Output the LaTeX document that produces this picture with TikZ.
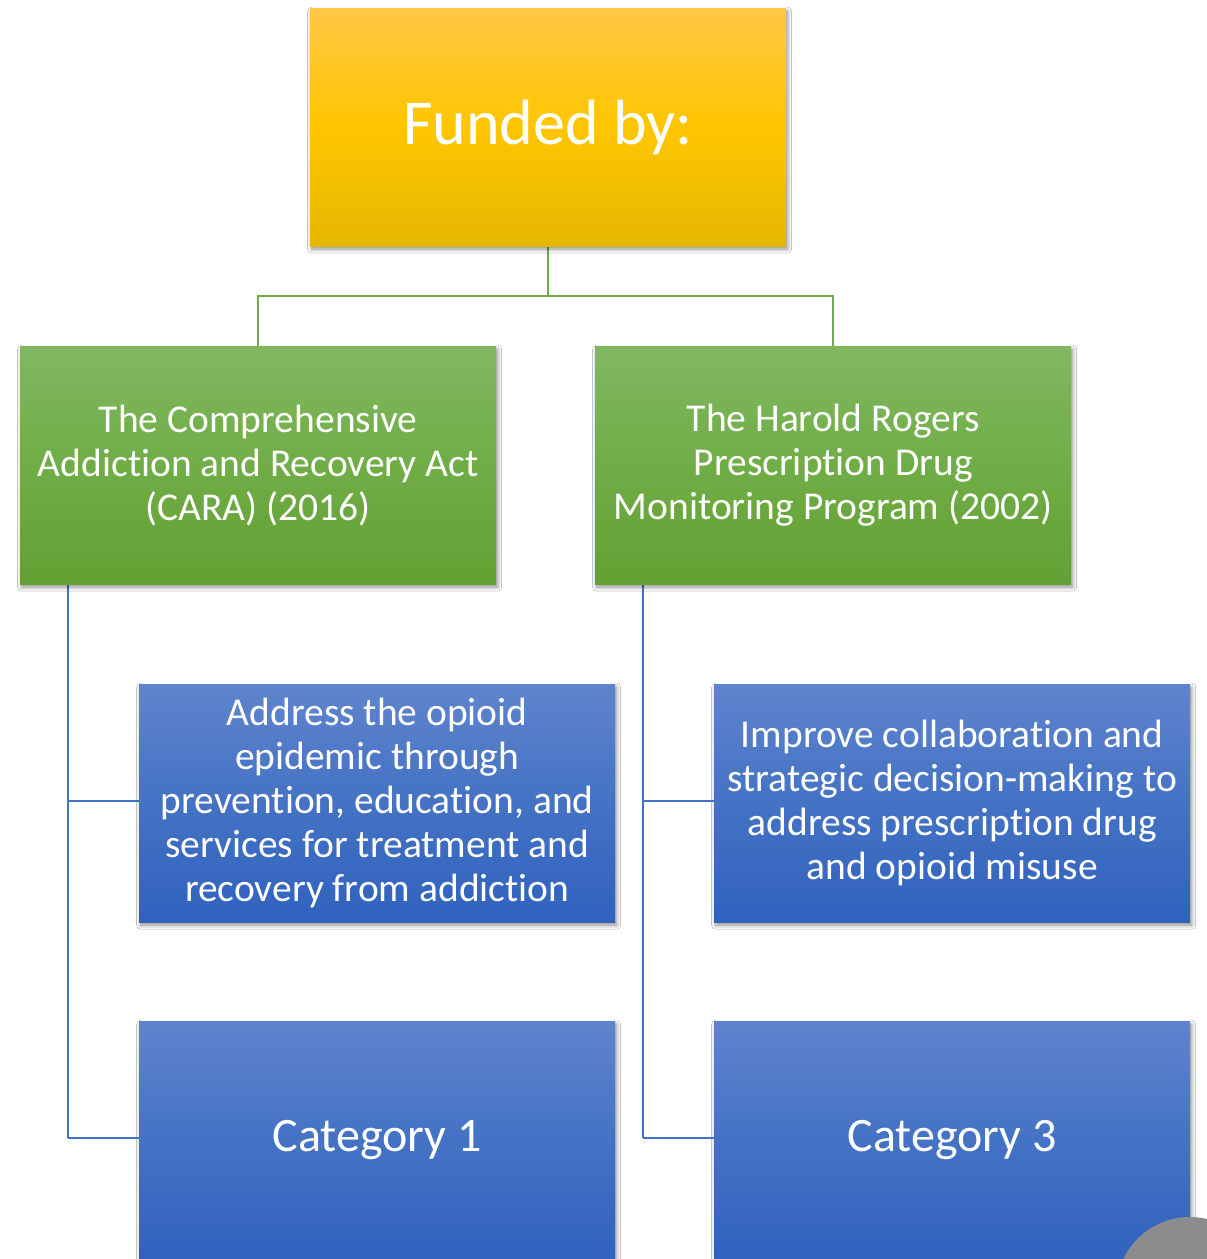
\documentclass[tikz,border=0pt]{standalone}
\usepackage{fontspec}
\setmainfont{Carlito}[Ligatures=NoCommon]
\usetikzlibrary{shadows.blur}
\definecolor{ytop}{HTML}{FFC746}
\definecolor{ymid}{HTML}{FFC600}
\definecolor{ybot}{HTML}{E5B700}
\definecolor{gtop}{HTML}{81B861}
\definecolor{gmid}{HTML}{70AD47}
\definecolor{gbot}{HTML}{62A133}
\definecolor{btop}{HTML}{5F84CD}
\definecolor{bmid}{HTML}{4472C4}
\definecolor{bbot}{HTML}{3062BE}
\definecolor{glink}{HTML}{70AD47}
\definecolor{blink}{HTML}{4472C4}
\definecolor{gcirc}{HTML}{8C8C8C}
\tikzset{
  box/.style={rectangle, anchor=north west, minimum width=476pt, minimum height=238pt,
    inner sep=0pt, text=white, align=center,
    blur shadow={shadow xshift=1.5pt, shadow yshift=-3pt, shadow blur steps=8, shadow blur radius=4pt, shadow opacity=45}},
  ybox/.style={box, top color=ytop, bottom color=ybot, middle color=ymid},
  gbox/.style={box, top color=gtop, bottom color=gbot, middle color=gmid},
  bbox/.style={box, top color=btop, bottom color=bbot, middle color=bmid},
  glk/.style={draw=glink, line width=2.5pt},
  blk/.style={draw=blink, line width=2.5pt},
  txt/.style={font=\fontsize{39.5}{44}\selectfont},
}
\begin{document}
\begin{tikzpicture}[x=1pt,y=-1pt]
\useasboundingbox (0,0) rectangle (1207,1259);
\clip (0,0) rectangle (1207,1259);
\fill[white] (0,0) rectangle (1207,1259);
\coordinate (jt) at (548,296);
\coordinate (jl) at (258,296);
\coordinate (jr) at (833,296);
\coordinate (l0) at (68,584);
\coordinate (r0) at (643,584);
\coordinate (l1) at (68,801);
\coordinate (l2) at (68,1138);
\coordinate (r1) at (643,801);
\coordinate (r2) at (643,1138);
\draw[glk] (548,240) -- (jt) -- (jl) -- (258,350);
\draw[glk] (jt) -- (jr) -- (833,350);
\draw[blk] (l0) -- (l2);
\draw[blk] (r0) -- (r2);
\node[ybox, font=\fontsize{64}{76}\selectfont] (top) at (310,8) {Funded by:};
\node[gbox, txt] (cara) at (20,346) {The Comprehensive\\Addiction and Recovery Act\\(CARA) (2016)};
\node[gbox, txt] (hr) at (595,346) {The Harold Rogers\\Prescription Drug\\Monitoring Program (2002)};
\node[bbox, txt] (addr) at (139,684) {Address the opioid\\epidemic through\\prevention, education, and\\services for treatment and\\recovery from addiction};
\node[bbox, txt] (impr) at (714,684) {Improve collaboration and\\strategic decision-making to\\address prescription drug\\and opioid misuse};
\node[bbox, font=\fontsize{48}{56}\selectfont] (cat1) at (139,1021) {Category 1};
\node[bbox, font=\fontsize{48}{56}\selectfont] (cat3) at (714,1021) {Category 3};
\draw[blk] (l1) -- (l1 -| addr.west);
\draw[blk] (l2) -- (l2 -| cat1.west);
\draw[blk] (r1) -- (r1 -| impr.west);
\draw[blk] (r2) -- (r2 -| cat3.west);
\fill[gcirc] (1190,1291) circle (74);
\end{tikzpicture}
\end{document}
